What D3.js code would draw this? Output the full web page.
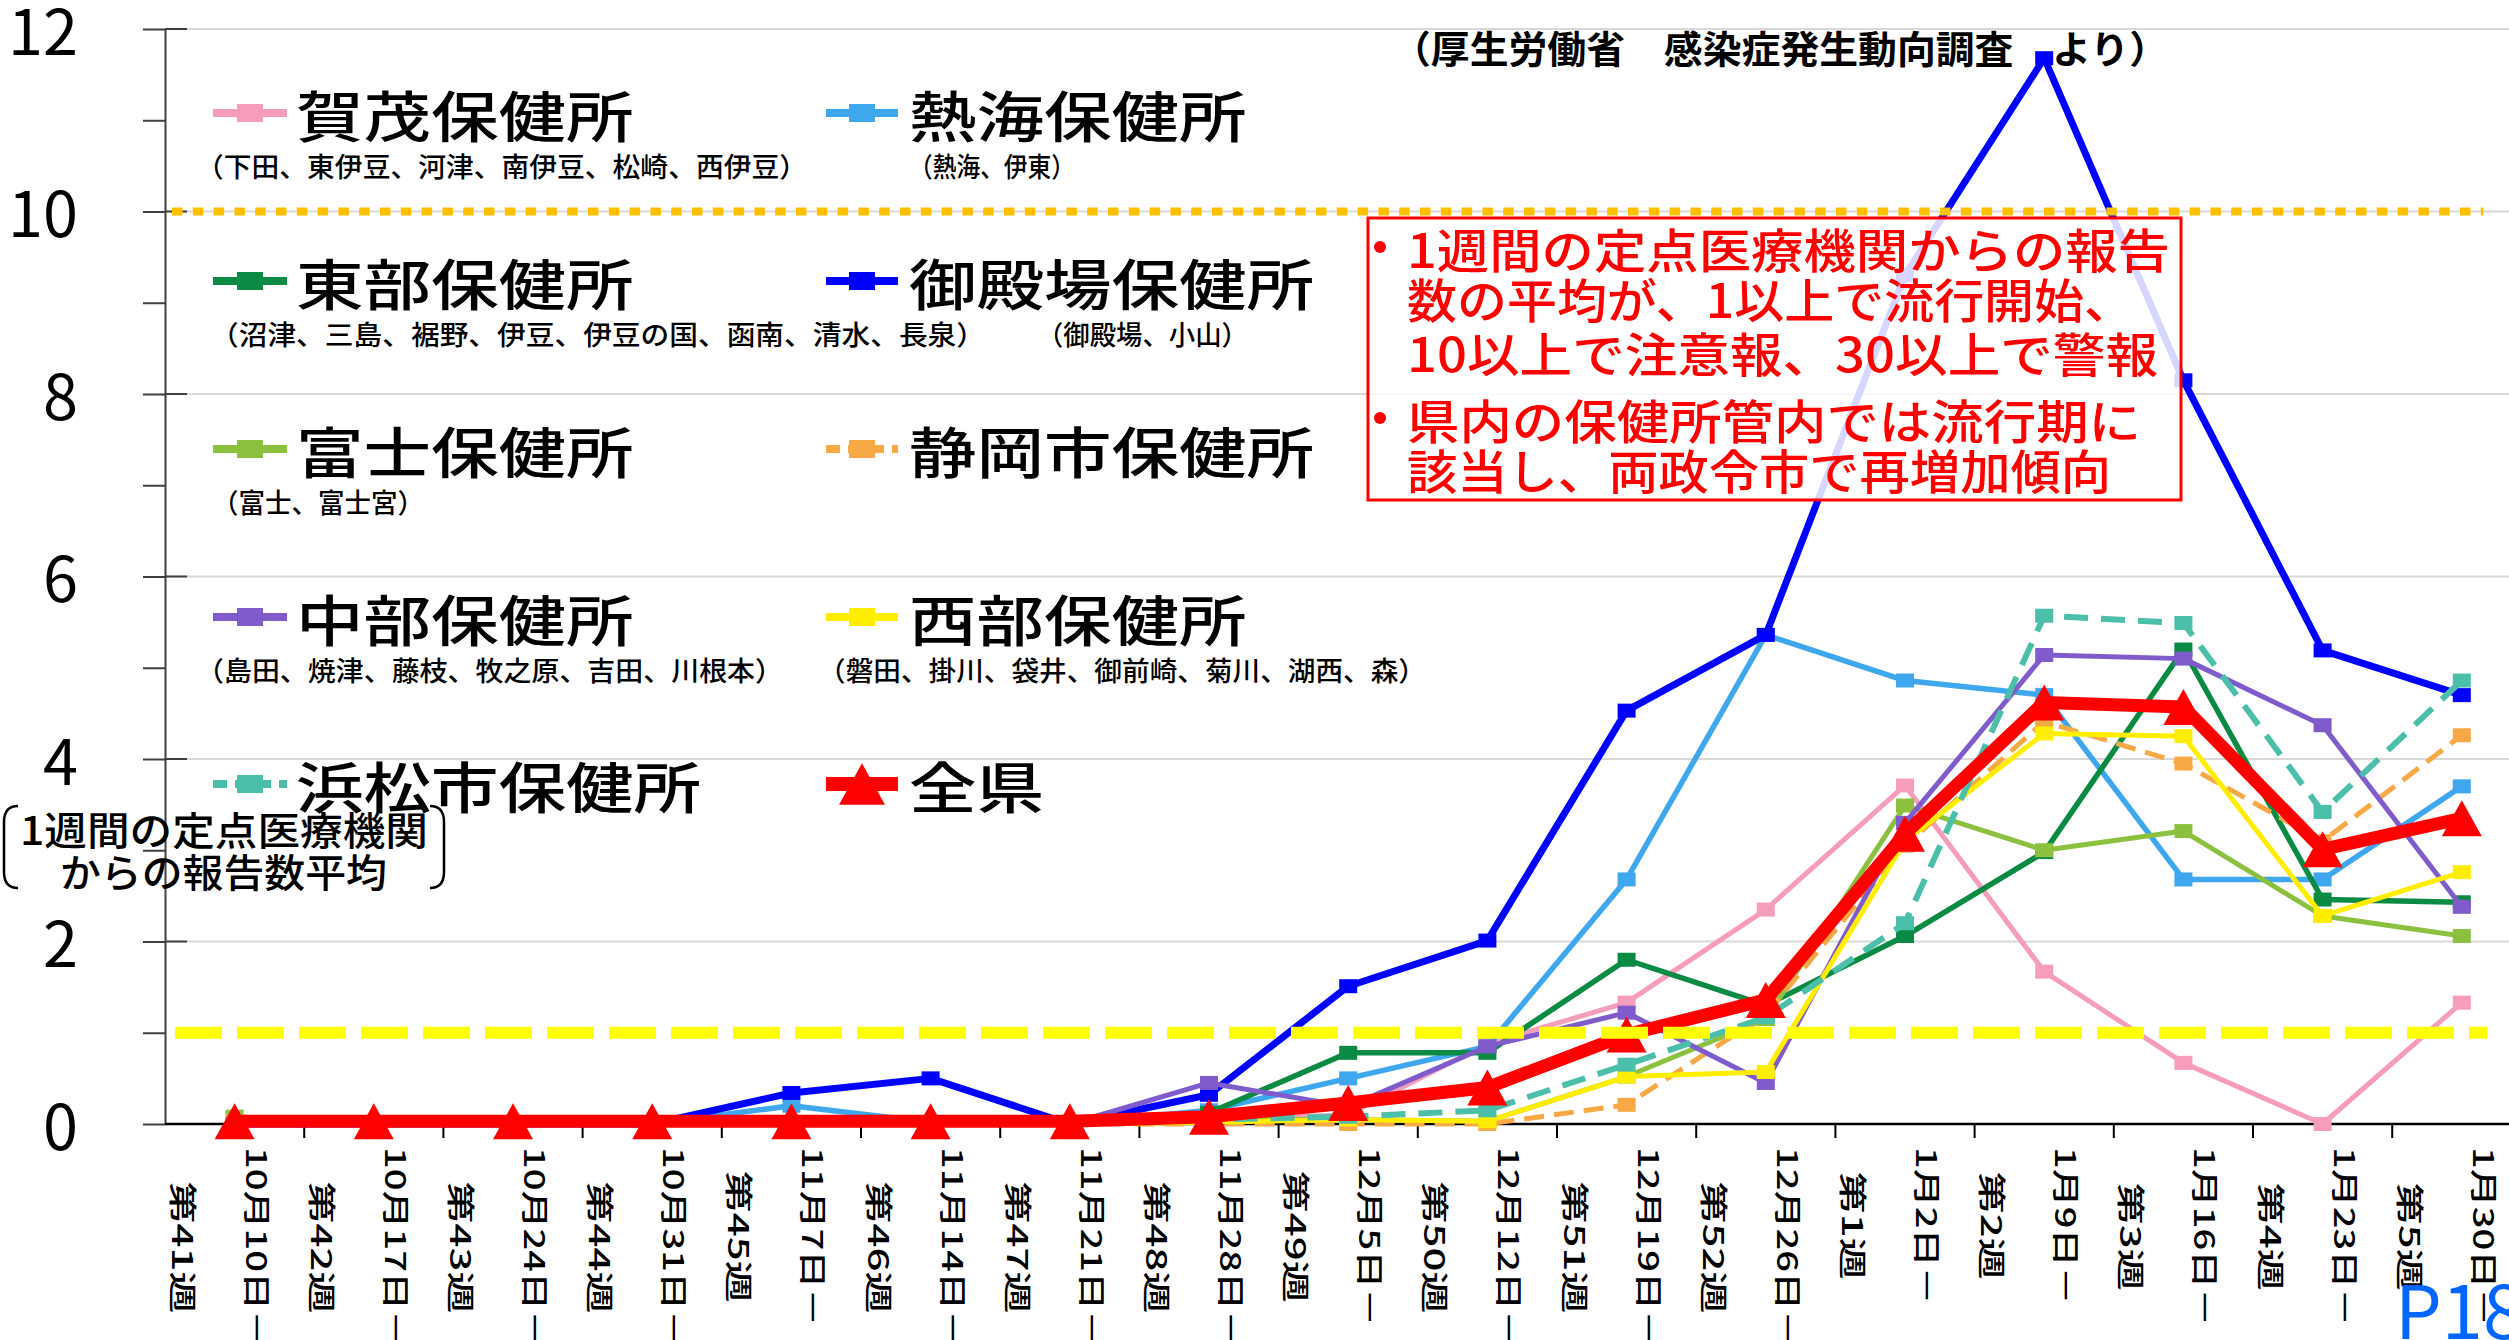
<!DOCTYPE html>
<html lang="ja">
<head>
<meta charset="utf-8">
<title>保健所別 定点当たり報告数</title>
<script src="https://cdn.jsdelivr.net/npm/d3@7"></script>
<style>
  html, body { margin: 0; padding: 0; background: #fff; }
  svg { display: block; }
  text { font-family: "Noto Sans CJK JP", sans-serif; font-weight: 500; }
</style>
</head>
<body>
<div id="chart"></div>
<script>
// categories
const WEEKS = ["第41週", "第42週", "第43週", "第44週", "第45週", "第46週", "第47週", "第48週",
  "第49週", "第50週", "第51週", "第52週", "第1週", "第2週", "第3週", "第4週", "第5週"];
const DATES = ["10月10日－", "10月17日－", "10月24日－", "10月31日－", "11月7日－", "11月14日－",
  "11月21日－", "11月28日－", "12月5日－", "12月12日－", "12月19日－", "12月26日－",
  "1月2日－", "1月9日－", "1月16日－", "1月23日－", "1月30日－"];
const Y_TICKS = [0, 2, 4, 6, 8, 10, 12];
const LEVELS = [1, 10]; // 流行開始 / 注意報

// series values (定点当たり報告数)
const KAMO     = [0, 0, 0, 0, 0, 0, 0, 0.05, 0.1, 0.88, 1.33, 2.35, 3.71, 1.67, 0.67, 0, 1.33];
const ATAMI    = [0, 0, 0, 0, 0.2, 0.02, 0, 0.15, 0.5, 0.85, 2.68, 5.36, 4.86, 4.7, 2.68, 2.68, 3.7];
const TOBU     = [0, 0, 0, 0, 0, 0, 0, 0.12, 0.78, 0.78, 1.8, 1.3, 2.06, 2.98, 5.2, 2.46, 2.43];
const GOTEMBA  = [0, 0, 0, 0, 0.34, 0.5, 0, 0.32, 1.51, 2.01, 4.53, 5.36, 9.3, 11.68, 8.15, 5.19, 4.7];
const FUJI     = [0.08, 0, 0, 0, 0, 0, 0, 0.05, 0.05, 0.03, 0.52, 1.15, 3.49, 3.0, 3.21, 2.28, 2.06];
const SHIZUOKA = [0.03, 0, 0, 0, 0, 0, 0, 0, 0, 0, 0.21, 1.2, 3.05, 4.41, 3.95, 3.1, 4.26];
const CHUBU    = [0, 0, 0, 0, 0, 0, 0, 0.45, 0.19, 0.85, 1.22, 0.45, 3.3, 5.14, 5.1, 4.37, 2.38];
const SEIBU    = [0, 0, 0, 0, 0, 0, 0, 0.02, 0.05, 0.03, 0.52, 0.57, 3.1, 4.28, 4.25, 2.28, 2.76];
const HAMAMATSU = [0, 0, 0, 0, 0, 0, 0, 0.05, 0.08, 0.15, 0.65, 1.17, 2.2, 5.57, 5.49, 3.42, 4.86];
const ZENKEN   = [0.03, 0.03, 0.03, 0.03, 0.03, 0.03, 0.03, 0.08, 0.23, 0.4, 0.98, 1.36, 3.18, 4.62, 4.57, 3.01, 3.35];

// style table (legend order, row-major)
const SERIES = [
  { name: "賀茂保健所", sub: "（下田、東伊豆、河津、南伊豆、松崎、西伊豆）", values: KAMO, color: "#F59DBA", w: 5, row: 0, col: 0, subX: 196, subW: 611 },
  { name: "熱海保健所", sub: "（熱海、伊東）", values: ATAMI, color: "#3FA7EE", w: 5.5, row: 0, col: 1, subX: 909, subW: 166 },
  { name: "東部保健所", sub: "（沼津、三島、裾野、伊豆、伊豆の国、函南、清水、長泉）", values: TOBU, color: "#0B8A43", w: 5.5, row: 1, col: 0, subX: 210, subW: 775 },
  { name: "御殿場保健所", sub: "（御殿場、小山）", values: GOTEMBA, color: "#0000FF", w: 7, row: 1, col: 1, subX: 1037, subW: 211 },
  { name: "富士保健所", sub: "（富士、富士宮）", values: FUJI, color: "#8BC13F", w: 5, row: 2, col: 0, subX: 212, subW: 212 },
  { name: "静岡市保健所", sub: null, values: SHIZUOKA, color: "#F7A945", w: 5, dash: "20,10", row: 2, col: 1 },
  { name: "中部保健所", sub: "（島田、焼津、藤枝、牧之原、吉田、川根本）", values: CHUBU, color: "#7F5BCC", w: 5, row: 3, col: 0, subX: 196, subW: 587 },
  { name: "西部保健所", sub: "（磐田、掛川、袋井、御前崎、菊川、湖西、森）", values: SEIBU, color: "#FFEE00", w: 5, row: 3, col: 1, subX: 818, subW: 608 },
  { name: "浜松市保健所", sub: null, values: HAMAMATSU, color: "#4CBFAB", w: 6, dash: "24,13", row: 4, col: 0 },
  { name: "全県", sub: null, values: ZENKEN, color: "#FF0000", w: 13, tri: true, row: 4, col: 1 }
];

const NOTE = ["1週間の定点医療機関からの報告", "数の平均が、1以上で流行開始、",
  "10以上で注意報、30以上で警報", "県内の保健所管内では流行期に", "該当し、両政令市で再増加傾向"];

const W = 2509, H = 1340;
const x = d3.scaleBand().domain(WEEKS).range([165, 165 + 139.2 * WEEKS.length]);
const y = d3.scaleLinear().domain([0, 12]).range([1124, 29]);
const cx = w => x(w) + x.bandwidth() / 2;

const svg = d3.select('#chart').append('svg').attr('width', W).attr('height', H);

const stretch = (sel, k) => sel.each(function () {
  const n = this.getComputedTextLength();
  this.setAttribute('textLength', n * k);
  this.setAttribute('lengthAdjust', 'spacingAndGlyphs');
});
const fit = (sel, len) => sel.attr('textLength', len).attr('lengthAdjust', 'spacingAndGlyphs');

// gridlines
svg.append('g').selectAll('line').data(Y_TICKS.filter(d => d > 0)).join('line')
  .attr('x1', 165).attr('x2', x.range()[1])
  .attr('y1', d => y(d)).attr('y2', d => y(d))
  .attr('stroke', '#d9d9d9').attr('stroke-width', 2);

// y axis
svg.append('g').attr('transform', 'translate(165,0)')
  .call(d3.axisLeft(y).tickValues(d3.range(0, 13)).tickSize(22).tickSizeOuter(0).tickPadding(65)
    .tickFormat(d => d % 2 ? '' : d))
  .call(g => g.select('.domain').attr('stroke', '#404040').attr('stroke-width', 2))
  .call(g => g.selectAll('.tick line').attr('stroke', '#404040').attr('stroke-width', 2))
  .call(g => g.selectAll('.tick text').attr('font-family', '"Liberation Sans", Arial, sans-serif')
    .style('font-weight', 'normal').attr('font-size', 63).attr('fill', '#000').attr('dy', '0.4em'));

// inner part of major ticks
svg.append('g').selectAll('line').data(Y_TICKS).join('line')
  .attr('x1', 165).attr('x2', 187).attr('y1', d => y(d)).attr('y2', d => y(d))
  .attr('stroke', '#404040').attr('stroke-width', 2);

// x axis
svg.append('line').attr('x1', 165).attr('x2', x.range()[1]).attr('y1', y(0)).attr('y2', y(0))
  .attr('stroke', '#000').attr('stroke-width', 2.5);
svg.append('g').selectAll('line').data(WEEKS).join('line')
  .attr('x1', d => x(d) + x.bandwidth()).attr('x2', d => x(d) + x.bandwidth())
  .attr('y1', y(0)).attr('y2', y(0) + 14)
  .attr('stroke', '#000').attr('stroke-width', 2);

// x labels (rotated)
const xl = svg.append('g').attr('font-size', 28).attr('fill', '#000');
WEEKS.forEach((w, i) => {
  const c = cx(w);
  const dt = xl.append('text').attr('transform', `translate(${c + 23},1147) rotate(90)`)
    .attr('dominant-baseline', 'central').text(DATES[i]);
  stretch(dt, 1.36);
  const dLen = +dt.attr('textLength');
  xl.append('text').attr('transform', `translate(${c - 51},${1147 + dLen / 2}) rotate(90)`)
    .attr('text-anchor', 'middle').attr('dominant-baseline', 'central').text(w)
    .call(stretch, 1.5);
});

// series
const line = d3.line().x((d, i) => cx(WEEKS[i])).y(d => y(d));
const tri = (s) => `M0,${-s * 0.45}L${s / 2},${s * 0.45}L${-s / 2},${s * 0.45}Z`;

SERIES.forEach(s => {
  const g = svg.append('g');
  g.append('path').datum(s.values).attr('d', line)
    .attr('fill', 'none').attr('stroke', s.color).attr('stroke-width', s.w)
    .attr('stroke-linejoin', 'round')
    .attr('stroke-dasharray', s.dash || null);
  if (s.tri) {
    g.selectAll('path.m').data(s.values).join('path').attr('class', 'm')
      .attr('transform', (d, i) => `translate(${cx(WEEKS[i])},${y(d)})`)
      .attr('d', tri(40)).attr('fill', s.color);
  } else {
    g.selectAll('rect').data(s.values).join('rect')
      .attr('x', (d, i) => cx(WEEKS[i]) - 9).attr('y', d => y(d) - 7)
      .attr('width', 18).attr('height', 14).attr('fill', s.color);
  }
});

// threshold lines
svg.append('line').attr('x1', 175).attr('x2', x.range()[1] - 44)
  .attr('y1', y(LEVELS[0])).attr('y2', y(LEVELS[0]))
  .attr('stroke', '#FFFF00').attr('stroke-width', 12).attr('stroke-dasharray', '47,15');
svg.append('line').attr('x1', 172).attr('x2', x.range()[1] - 48)
  .attr('y1', y(LEVELS[1])).attr('y2', y(LEVELS[1]))
  .attr('stroke', '#FFC000').attr('stroke-width', 8).attr('stroke-dasharray', '10.5,10.3');

// legend
const rowY = [113, 281, 449, 617, 784];
const colLine = [[213, 287], [826, 898]];
const colText = [296, 909];
const lg = svg.append('g');
SERIES.forEach(s => {
  const yy = rowY[s.row], [a, b] = colLine[s.col];
  lg.append('line').attr('x1', a).attr('x2', b).attr('y1', yy).attr('y2', yy)
    .attr('stroke', s.color).attr('stroke-width', s.tri ? 14 : 8)
    .attr('stroke-dasharray', s.dash ? '14,8' : null);
  if (s.tri) {
    lg.append('path').attr('transform', `translate(${(a + b) / 2},${yy})`)
      .attr('d', tri(46)).attr('fill', s.color);
  } else {
    lg.append('rect').attr('x', (a + b) / 2 - 13).attr('y', yy - 9)
      .attr('width', 26).attr('height', 18).attr('fill', s.color);
  }
  lg.append('text').attr('x', colText[s.col]).attr('y', yy)
    .attr('dominant-baseline', 'central').attr('font-size', 55).attr('fill', '#000')
    .text(s.name).call(fit, s.name.length * 67.5);
  if (s.sub) {
    lg.append('text').attr('x', s.subX).attr('y', yy + 52)
      .attr('dominant-baseline', 'central').attr('font-size', 27).attr('fill', '#000')
      .text(s.sub).call(fit, s.subW);
  }
});

// y axis title with brackets
svg.append('text').attr('x', 20).attr('y', 828).attr('dominant-baseline', 'central')
  .attr('font-size', 39).attr('fill', '#000').text('1週間の定点医療機関').call(fit, 408);
svg.append('text').attr('x', 60).attr('y', 870).attr('dominant-baseline', 'central')
  .attr('font-size', 39).attr('fill', '#000').text('からの報告数平均').call(fit, 327);
svg.append('path').attr('d', 'M18,806Q4,806,4,822L4,872Q4,888,18,888')
  .attr('fill', 'none').attr('stroke', '#000').attr('stroke-width', 2.5);
svg.append('path').attr('d', 'M430,806Q444,806,444,822L444,872Q444,888,430,888')
  .attr('fill', 'none').attr('stroke', '#000').attr('stroke-width', 2.5);

// source
svg.append('text').attr('x', 1392).attr('y', 46).attr('dominant-baseline', 'central')
  .attr('font-size', 38).style('font-weight', 'bold').attr('fill', '#000')
  .text('（厚生労働省　感染症発生動向調査　より）').call(fit, 776);

// note box
svg.append('rect').attr('x', 1368).attr('y', 218).attr('width', 813).attr('height', 282)
  .attr('fill', '#fff').attr('fill-opacity', 0.84).attr('stroke', '#FF0000').attr('stroke-width', 3);
const noteY = [247, 297, 351, 418, 468];
const noteW = [763, 727, 751, 734, 704];
NOTE.forEach((t, i) => {
  svg.append('text').attr('x', 1407).attr('y', noteY[i]).attr('dominant-baseline', 'central')
    .attr('font-size', 47).attr('fill', '#FF0000').text(t).call(fit, noteW[i]);
});
[0, 3].forEach(i => {
  svg.append('circle').attr('cx', 1380).attr('cy', noteY[i]).attr('r', 6).attr('fill', '#FF0000');
});

// page number
svg.append('text').attr('x', 2395).attr('y', 1339)
  .attr('font-family', '"Liberation Sans", Arial, sans-serif').style('font-weight', 'normal')
  .attr('font-size', 74).attr('fill', '#0066FF').text('P18');
</script>
</body>
</html>
